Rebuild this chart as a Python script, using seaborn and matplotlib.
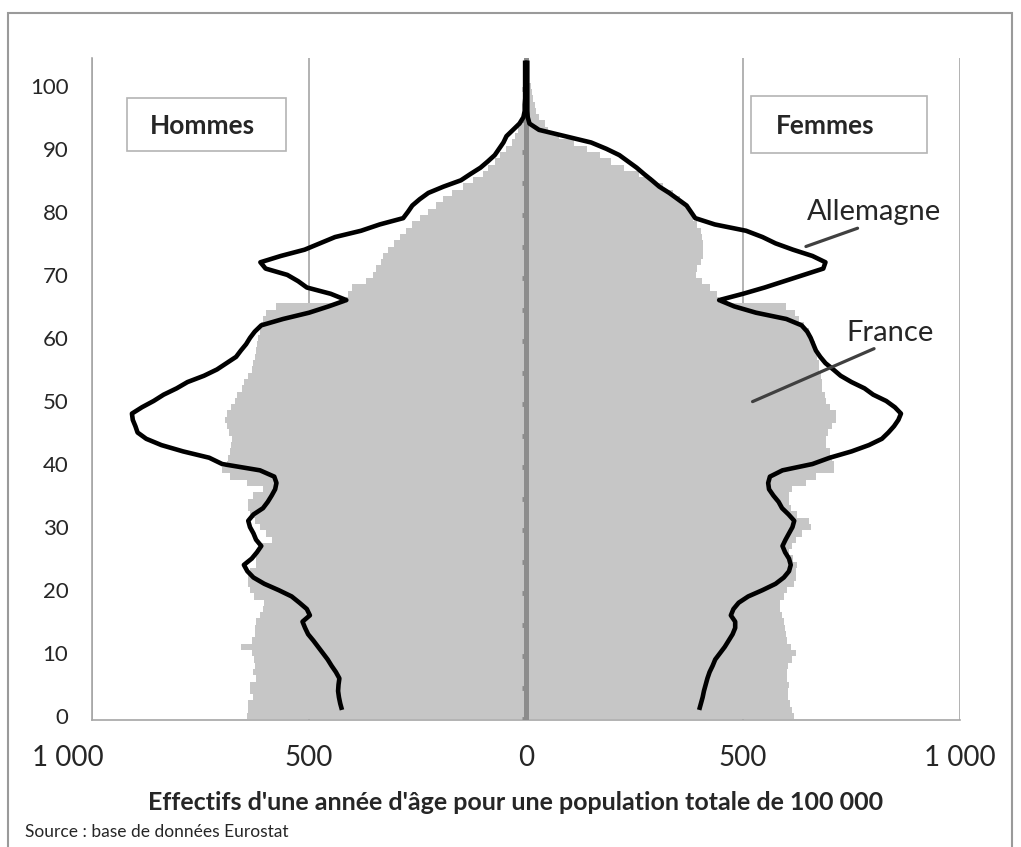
import numpy as np
import pandas as pd
import matplotlib.pyplot as plt
import matplotlib.patches as mpatches
import matplotlib.transforms as mtransforms
import seaborn as sns

# ─── Data (effectifs pour 100 000 habitants) ─────────────────────────────────

ages = np.arange(0, 105)

# France, hommes (barres grises à gauche)
fr_h = [644, 640, 641, 629, 636, 635, 621, 629, 625, 626,
        632, 657, 632, 625, 625, 621, 613, 606, 604, 627,
        636, 640, 641, 636, 621, 621, 621, 612, 586, 598,
        613, 625, 635, 640, 641, 630, 606, 644, 682, 700,
        690, 687, 682, 680, 678, 685, 690, 694, 690, 680,
        670, 665, 655, 650, 640, 632, 629, 625, 621, 619,
        617, 614, 610, 605, 600, 575, 414, 410, 400, 368,
        352, 345, 335, 330, 318, 305, 290, 276, 262, 245,
        225, 208, 192, 170, 146, 122, 100, 88, 72, 60,
        46, 33, 25, 19, 14, 10, 8, 6, 4, 3,
        2, 2, 1, 1, 1]

# France, femmes (barres grises à droite)
fr_f = [618, 612, 608, 603, 603, 606, 602, 602, 604, 612,
        622, 610, 602, 598, 597, 595, 590, 585, 586, 595,
        602, 618, 622, 622, 625, 615, 606, 612, 622, 637,
        656, 652, 625, 610, 606, 606, 614, 645, 668, 710,
        710, 706, 700, 691, 691, 696, 706, 714, 714, 700,
        691, 688, 683, 683, 680, 676, 674, 671, 668, 665,
        660, 652, 640, 630, 620, 598, 445, 440, 425, 405,
        392, 395, 403, 407, 408, 407, 406, 403, 395, 385,
        378, 369, 355, 338, 315, 290, 260, 225, 195, 170,
        140, 110, 77, 50, 44, 30, 24, 20, 16, 14,
        12, 8, 5, 3, 2]

de_ages = np.arange(1, 105)

# Allemagne, hommes (ligne noire à gauche)
de_h = [424, 428, 431, 433, 432, 430, 438, 448, 457,
        468, 479, 490, 502, 509, 515, 498, 505, 522, 540,
        570, 603, 628, 642, 650, 632, 620, 610, 622, 628,
        636, 640, 628, 606, 595, 586, 578, 575, 580, 613,
        700, 730, 790, 840, 875, 895, 900, 906, 908, 885,
        858, 835, 805, 780, 742, 712, 690, 668, 657, 645,
        636, 625, 610, 560, 500, 455, 414, 450, 505, 525,
        550, 600, 612, 565, 510, 475, 440, 380, 337, 283,
        272, 262, 245, 225, 190, 150, 128, 105, 88, 72,
        62, 52, 45, 30, 15, 6, 3, 3, 2, 2,
        2, 2, 2, 2, 2]

# Allemagne, femmes (ligne noire à droite)
de_f = [399, 403, 407, 410, 414, 418, 423, 430, 436,
        447, 458, 467, 476, 482, 482, 472, 478, 490, 512,
        545, 575, 594, 606, 610, 606, 597, 591, 598, 606,
        614, 618, 605, 590, 582, 570, 560, 558, 562, 591,
        660, 700, 750, 790, 820, 835, 848, 858, 864, 850,
        830, 800, 780, 750, 725, 708, 690, 678, 668, 662,
        656, 648, 635, 600, 530, 480, 445, 500, 550, 595,
        640, 685, 690, 660, 615, 575, 545, 507, 435, 390,
        380, 370, 350, 330, 307, 290, 272, 255, 235, 215,
        185, 150, 90, 30, 8, 4, 3, 3, 3, 3,
        3, 3, 3, 3, 3]

xtick_vals = [-1000, -500, 0, 500, 1000]
xtick_labels = ["1 000", "500", "0", "500", "1 000"]

# ─── Style ───────────────────────────────────────────────────────────────────

sns.set_style("white")
plt.rcParams["font.family"] = ["Lato", "DejaVu Sans"]

BAR = "#c6c6c6"
AXIS = "#a6a6a6"
CENTER = "#8c8c8c"

fig = plt.figure(figsize=(10.21, 8.47), dpi=100)
ax = fig.add_axes([92 / 1021, 127 / 847, 868 / 1021, 662 / 847])

# ─── Pyramid ─────────────────────────────────────────────────────────────────

hommes = pd.DataFrame({"age": ages, "val": -np.array(fr_h)})
femmes = pd.DataFrame({"age": ages, "val": np.array(fr_f)})
for d in (hommes, femmes):
    sns.barplot(data=d, x="val", y="age", orient="h", native_scale=True,
                width=1, color=BAR, saturation=1, linewidth=0,
                errorbar=None, ax=ax, zorder=2)

de = pd.DataFrame({"age": de_ages, "h": -np.array(de_h), "f": np.array(de_f)})
for col in ("h", "f"):
    sns.lineplot(data=de, x=col, y="age", orient="y", color="black",
                 lw=3.3, ax=ax, zorder=5, solid_joinstyle="round",
                 solid_capstyle="butt")

# central axis with small notches every 5 ages
ax.axvline(0, color=CENTER, lw=3.6, zorder=4)
ax.hlines(np.arange(-0.5, 104, 5), -10, 0, color=CENTER, lw=3.5, zorder=4)

# ─── Axes ────────────────────────────────────────────────────────────────────

ax.set_xlim(-1000, 1000)
ax.set_ylim(-0.6, 104.4)
ax.set_xticks(xtick_vals)
ax.set_xticklabels(xtick_labels, fontsize=20)
ax.set_yticks(range(0, 101, 10))
ax.set_yticklabels([str(v) for v in range(0, 101, 10)], fontsize=16)
ax.set_xlabel("")
ax.set_ylabel("")
ax.tick_params(axis="x", length=4, width=1.1, color=AXIS, pad=14)
ax.tick_params(axis="y", length=0, pad=17)

# the leftmost label sits a bit further left in the original
first = ax.get_xticklabels()[0]
first.set_transform(first.get_transform() +
                    mtransforms.ScaledTranslation(-0.24, 0, fig.dpi_scale_trans))

ax.grid(False)
ax.xaxis.grid(True, color=AXIS, lw=1.2)
ax.set_axisbelow(True)
for s in ("top", "right"):
    ax.spines[s].set_visible(False)
for s in ("left", "bottom"):
    ax.spines[s].set_color(AXIS)
    ax.spines[s].set_linewidth(1.2)

# ─── Labels ──────────────────────────────────────────────────────────────────

ax.add_patch(mpatches.Rectangle((-920, 89.7), 367, 8.3, facecolor="white",
                                edgecolor="#b4b4b4", lw=1.2, zorder=6))
ax.text(-866, 93.6, "Hommes", fontsize=19, fontweight="bold", va="center", zorder=7)
ax.add_patch(mpatches.Rectangle((518, 89.3), 407, 9.1, facecolor="white",
                                edgecolor="#b4b4b4", lw=1.2, zorder=6))
ax.text(576, 93.6, "Femmes", fontsize=19, fontweight="bold", va="center", zorder=7)

ax.text(648, 80, "Allemagne", fontsize=21, va="center", zorder=7)
ax.plot([645, 764], [74.5, 77.4], color="#404040", lw=2.3, zorder=7)
ax.text(738, 60.8, "France", fontsize=21, va="center", zorder=7)
ax.plot([522, 802], [49.9, 58.3], color="#404040", lw=2.3, zorder=7)

fig.text(516 / 1021, 1 - 802 / 847,
         "Effectifs d'une année d'âge pour une population totale de 100 000",
         ha="center", va="center", fontsize=18, fontweight="bold")
fig.text(25 / 1021, 1 - 832 / 847, "Source : base de données Eurostat",
         va="center", fontsize=12.5)

# outer frame
fig.patches.append(mpatches.Rectangle((8 / 1021, -0.05), 1004 / 1021, 1.05 - 13 / 847,
                                      transform=fig.transFigure, fill=False,
                                      edgecolor="#9a9a9a", lw=1.5))

plt.savefig("out.png", dpi=100)
plt.close()
